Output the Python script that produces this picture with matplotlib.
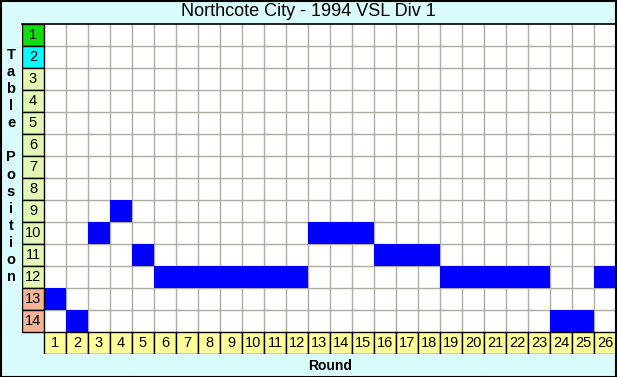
import matplotlib
matplotlib.use("Agg")
import matplotlib.pyplot as plt
from matplotlib.patches import Rectangle

title = "Northcote City - 1994 VSL Div 1"
rounds = list(range(1, 27))
positions = [13, 14, 10, 9, 11, 12, 12, 12, 12, 12, 12, 12, 10, 10, 10,
             11, 11, 11, 12, 12, 12, 12, 12, 14, 14, 12]
table_positions = list(range(1, 15))
pos_colors = ['#10dd10', '#00ffff'] + ['#e2f8b4'] * 10 + ['#f2b494'] * 2
ylabel = "Table Position"
xlabel = "Round"

W, H = 617, 377
fig = plt.figure(figsize=(W / 100, H / 100), dpi=100)
fig.patch.set_facecolor('#d9fbfb')

x0, x1 = 22, 616
y0, y1 = 24, 354
ax = fig.add_axes([x0 / W, 1 - y1 / H, (x1 - x0) / W, (y1 - y0) / H])
ax.set_xlim(-1, 26)
ax.set_ylim(15, 0)
ax.axis('off')

nr = len(rounds)
nt = len(table_positions)
ax.add_patch(Rectangle((0, 0), nr, nt, facecolor='white', edgecolor='none', zorder=0))
for i in range(1, nr):
    ax.plot([i, i], [0, nt], color='#b0aca0', lw=1, zorder=1)
for j in range(1, nt):
    ax.plot([0, nr], [j, j], color='#b0aca0', lw=1, zorder=1)

for r, p in zip(rounds, positions):
    ax.add_patch(Rectangle((r - 1, p - 1), 1, 1, facecolor='#0000ff', edgecolor='none', zorder=2))

for t, c in zip(table_positions, pos_colors):
    ax.add_patch(Rectangle((-1, t - 1), 1, 1, facecolor=c, edgecolor='black', lw=1, zorder=3))
    ax.text(-0.5, t - 0.5, str(t), ha='center', va='center', fontsize=10.5,
            family='Liberation Sans', zorder=4)

for r in rounds:
    ax.add_patch(Rectangle((r - 1, nt), 1, 1, facecolor='#ffff99', edgecolor='black', lw=1, zorder=3))
    ax.text(r - 0.5, nt + 0.5, str(r), ha='center', va='center', fontsize=10.5,
            family='Liberation Sans', zorder=4)

ax.plot([-1, nr], [0, 0], color='black', lw=1.2, zorder=5, clip_on=False)

fig.text(0.5, 1 - 12 / H, title, ha='center', va='center', fontsize=13,
         family='Liberation Sans')

n = len(ylabel)
cy = 166
step = 17.1
for k, ch in enumerate(ylabel):
    y = cy + (k - (n - 1) / 2) * step
    fig.text(11 / W, 1 - y / H, ch, ha='center', va='center', fontsize=10.5,
             fontweight='bold', family='Liberation Sans')

fig.text(((x0 + 22) + x1) / 2 / W, 1 - 366 / H, xlabel, ha='center', va='center',
         fontsize=10, fontweight='bold', family='Liberation Sans')

fig.patches.append(Rectangle((0.5 / W, 0.5 / H), (W - 1.5) / W, (H - 1.5) / H,
                             transform=fig.transFigure, facecolor='none',
                             edgecolor='black', lw=1.5))

fig.savefig('out.png', dpi=100, facecolor=fig.get_facecolor())
